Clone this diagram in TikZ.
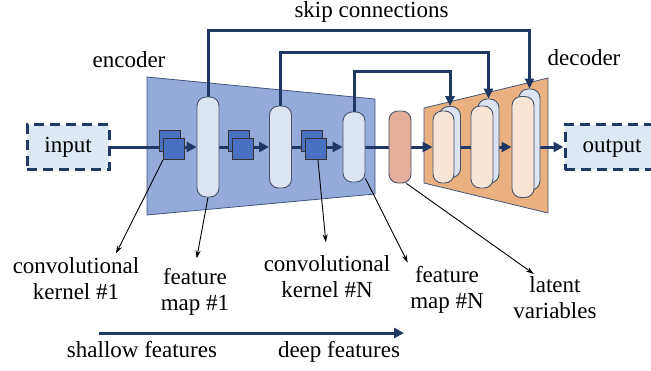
\documentclass[tikz,border=0pt]{standalone}
\usepackage{fontspec}
\setmainfont{Liberation Serif}
\usetikzlibrary{arrows.meta, positioning, calc}

\definecolor{navy}{RGB}{31,56,100}
\definecolor{encfill}{RGB}{148,170,217}
\definecolor{decfill}{RGB}{235,176,128}
\definecolor{mapfill}{RGB}{220,227,242}
\definecolor{decmapfill}{RGB}{248,229,214}
\definecolor{latfill}{RGB}{230,174,155}
\definecolor{kerfill}{RGB}{74,112,193}
\definecolor{iofill}{RGB}{222,232,245}
\definecolor{pillline}{RGB}{68,84,106}

\pgfdeclarelayer{back}
\pgfdeclarelayer{links}
\pgfsetlayers{back,links,main}

\begin{document}
\begin{tikzpicture}[
    x=1pt, y=-1pt,
    font=\fontsize{23}{26}\selectfont,
    pill/.style={
        draw=pillline,
        line width=0.9pt,
        rounded corners=9pt,
        fill=mapfill,
        minimum width=22pt,
        inner sep=0pt
    },
    kernel/.style={
        draw=black!80,
        line width=1pt,
        fill=kerfill,
        minimum size=21pt,
        inner sep=0pt
    },
    iobox/.style={
        draw=navy,
        line width=3pt,
        dash pattern=on 10pt off 6pt,
        fill=iofill,
        minimum height=45pt,
        inner sep=0pt,
        text height=16pt,
        text depth=5pt
    },
    txt/.style={inner sep=0pt, text height=16pt, text depth=5pt},
    lbl/.style={align=center, inner sep=1pt},
    body/.style={draw=navy!85, line width=0.8pt},
    flow/.style={navy, line width=3pt, -{Triangle[length=10pt,width=10pt]}},
    link/.style={navy, line width=3pt},
    skip/.style={navy, line width=3pt, -{Triangle[length=10pt,width=9pt]}},
    pointer/.style={black, line width=0.9pt, -{Stealth[length=8pt,width=5pt]}, shorten >=3pt}
]
\useasboundingbox (0,0) rectangle (651,370);

% ---------------- Encoder / decoder bodies ----------------
\begin{pgfonlayer}{back}
\fill[encfill, body] (147,77) -- (375,99) -- (375,194) -- (147,215) -- cycle;
\fill[decfill, body] (424,108) -- (548,78) -- (548,213) -- (424,183) -- cycle;
\end{pgfonlayer}

% ---------------- Nodes ----------------
\node[iobox, minimum width=82pt] (input)  at (68,147)  {input};
\node[iobox, minimum width=94pt] (output) at (612,147) {output};

\node[pill, minimum height=100pt] (fmap1) at (208,147)   {};
\node[pill, minimum height=82pt]  (fmap2) at (280.5,147) {};
\node[pill, minimum height=70pt]  (fmapN) at (354,147)   {};

\node[kernel] (k1b) at (169.5,141) {};
\node[kernel] (k1)  at (174,149)   {};
\node[kernel] (k2b) at (238.5,141) {};
\node[kernel] (k2)  at (243,149)   {};
\node[kernel] (kNb) at (311.5,141) {};
\node[kernel] (kN)  at (316,149)   {};

\node[pill, fill=latfill, minimum height=72pt] (latent) at (400,147) {};

\node[pill, minimum width=21pt, minimum height=71pt]  (dback1) at (450,142)   {};
\node[pill, fill=decmapfill, minimum width=21pt, minimum height=72pt] (dec1) at (443.5,147) {};
\node[pill, minimum width=21pt, minimum height=84pt]  (dback2) at (488.5,141) {};
\node[pill, fill=decmapfill, minimum height=82pt]     (dec2) at (482,147)   {};
\node[pill, minimum width=21pt, minimum height=101pt] (dback3) at (529.5,139.5) {};
\node[pill, fill=decmapfill, minimum height=101pt]    (dec3) at (523,147)   {};

% labels
\node[txt] (skiplbl) at (371.5,11.5) {skip connections};
\node[txt] (enclbl)  at (129,61.5)   {encoder};
\node[txt] (declbl)  at (584,59.5)   {decoder};

\node[lbl] (lab1) at (76,278.5)  {convolutional\\kernel \#1};
\node[lbl] (lab2) at (195,292)   {feature\\map \#1};
\node[lbl] (lab3) at (327,276.5) {convolutional\\kernel \#N};
\node[lbl] (lab4) at (447,290)   {feature\\map \#N};
\node[lbl] (lab5) at (555,298)   {latent\\variables};

\coordinate (shallow) at (99,333);
\coordinate (deep)    at (404,333);
\node[txt] (shallowlbl) at (142,352) {shallow features};
\node[txt] (deeplbl)    at (339,352) {deep features};

% ---------------- Data flow ----------------
\begin{pgfonlayer}{links}
\draw[flow] (input.east) -- (fmap1.west);
\draw[flow] (fmap1.east) -- (fmap2.west);
\draw[flow] (fmap2.east) -- (fmapN.west);
\draw[link] (fmapN.east) -- (latent.west);
\draw[flow] (latent.east) -- (dec1.west);
\draw[link] (dec1.east) -- (dec2.west);
\draw[flow] (dec2.east) -- (dec3.west);
\draw[flow] (dec3.east) -- (output.west);

% skip connections
\coordinate (lvl1) at (0,30);
\coordinate (lvl2) at (0,52);
\coordinate (lvl3) at (0,71);
\draw[skip] (fmap1.north) -- (fmap1.north |- lvl1) -| (dback3.north);
\draw[skip] (fmap2.north) -- (fmap2.north |- lvl2) -| (dback2.north);
\draw[skip] (fmapN.north) -- (fmapN.north |- lvl3) -| (dback1.north);
\end{pgfonlayer}

% ---------------- Pointers ----------------
\draw[pointer] (k1.south west) -- (lab1.30);
\draw[pointer, shorten >=9pt] (fmap1.south) -- (lab2.north);
\draw[pointer, shorten >=12pt] (kN.-80) -- (lab3.north);
\draw[pointer] (fmapN.-70) -- (lab4.north west);
\draw[pointer] (latent.-80) -- (lab5.130);

\draw[flow] (shallow) -- (deep);

\end{tikzpicture}
\end{document}
